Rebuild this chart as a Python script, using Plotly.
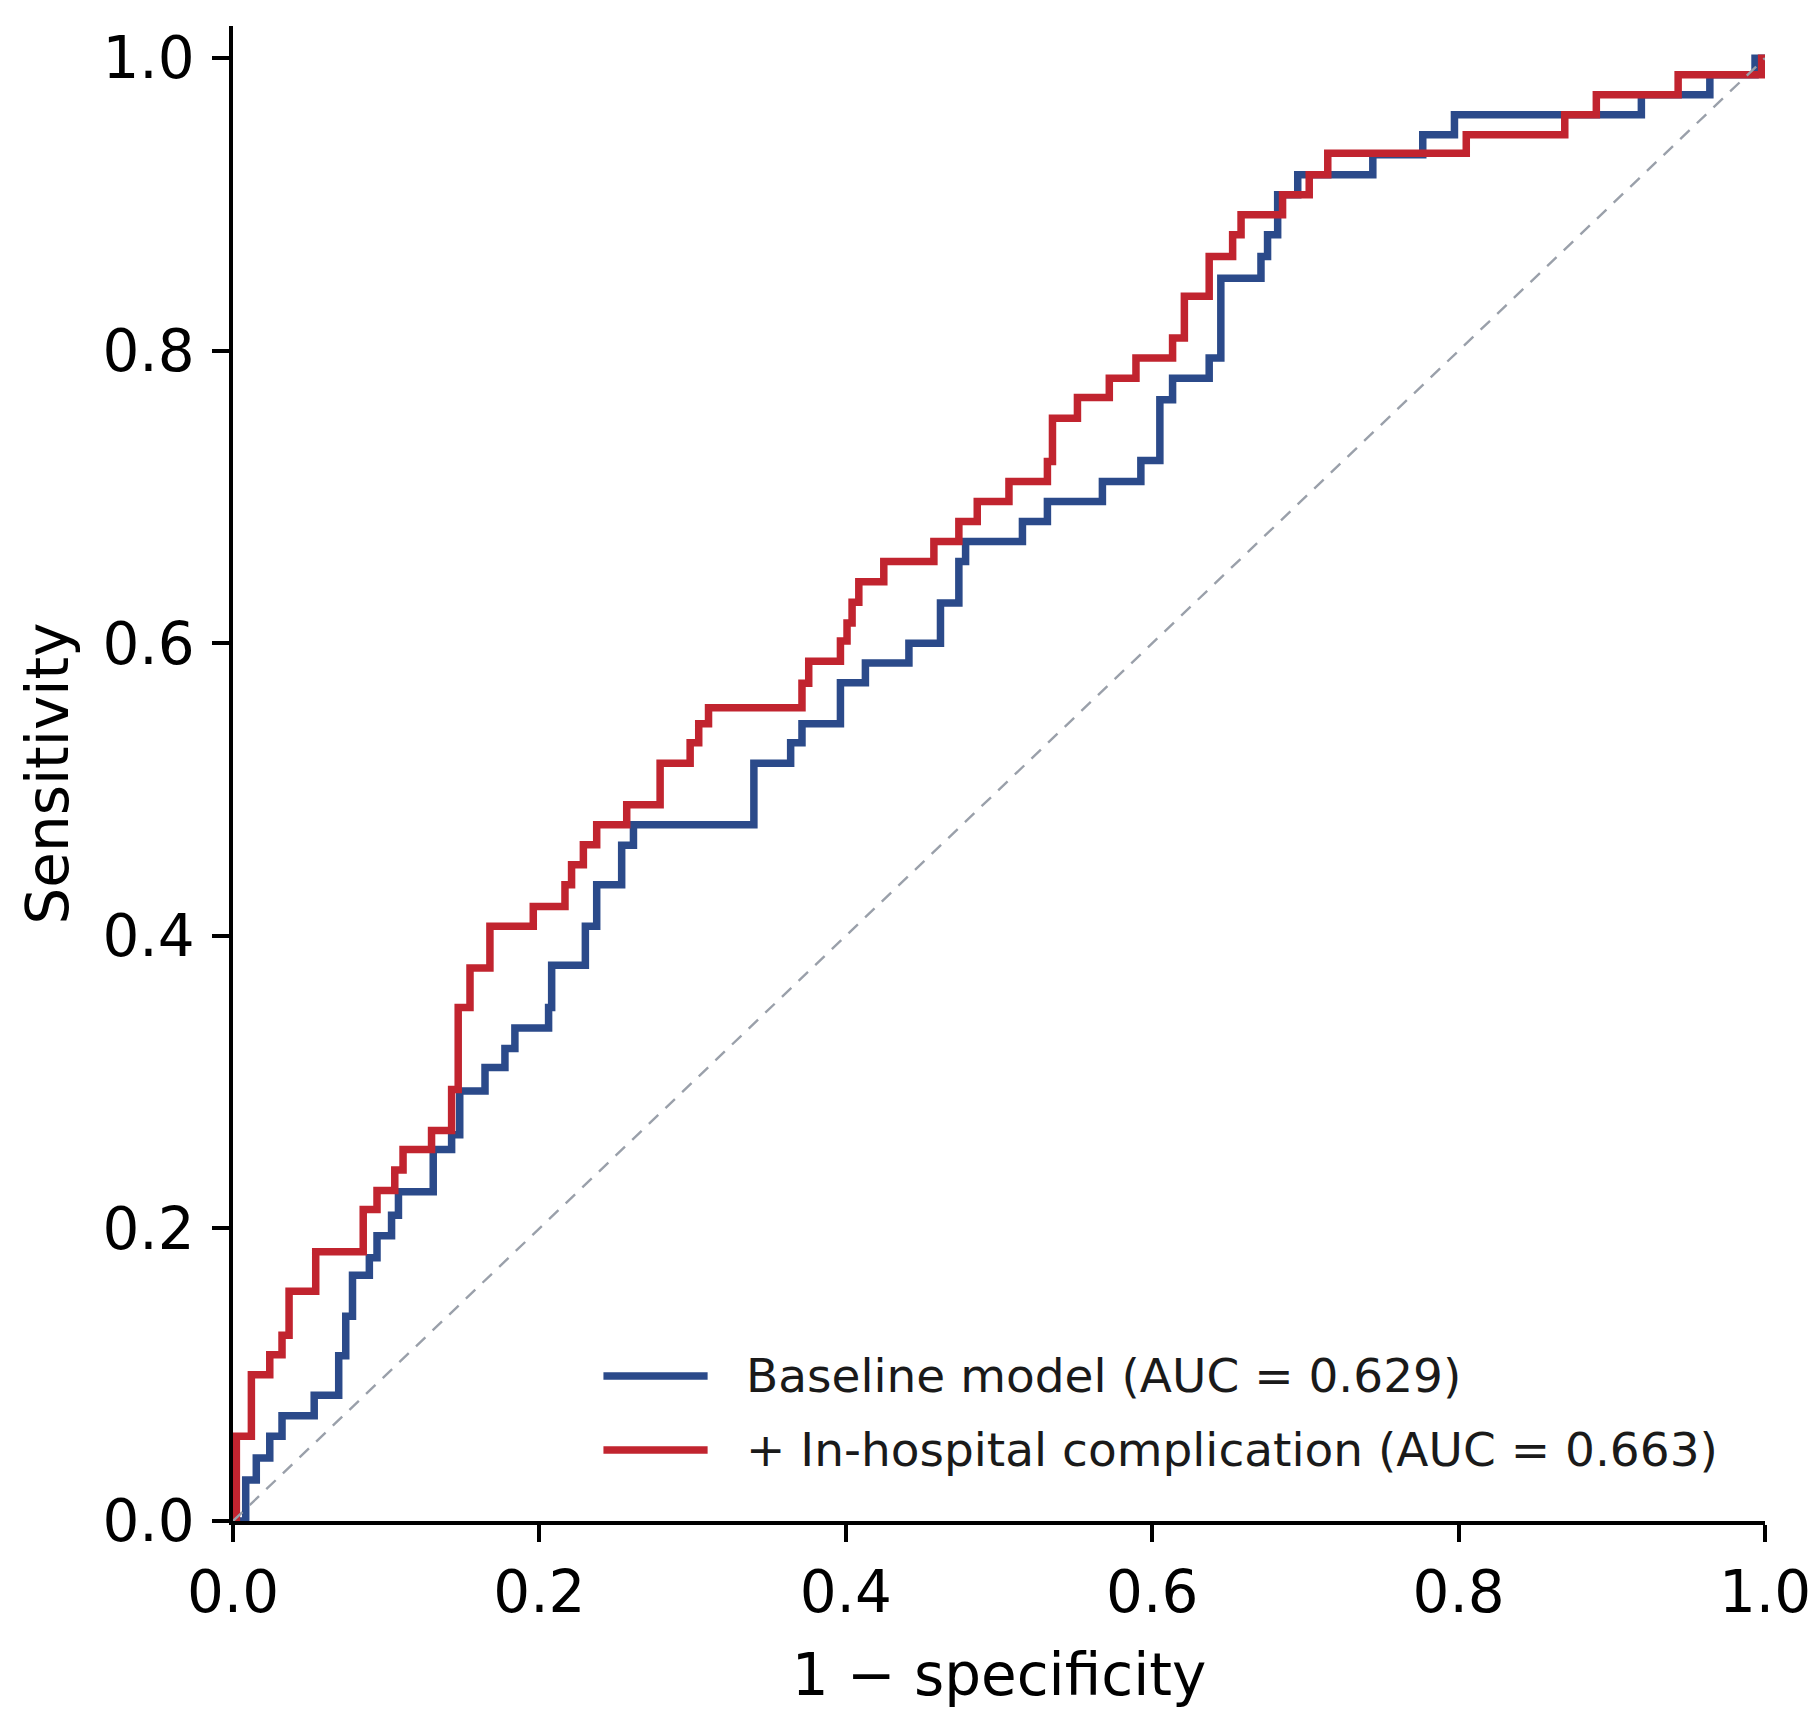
import plotly.graph_objects as go

# ---- data (ROC step vertices: false positive rate, true positive rate) ----
baseline_fpr = [0.0, 0.0083, 0.0152, 0.024, 0.032, 0.053, 0.069, 0.0736, 0.078, 0.089,
                0.094, 0.1035, 0.108, 0.1307, 0.1427, 0.148, 0.1645, 0.1775, 0.184, 0.206,
                0.208, 0.23, 0.2374, 0.2537, 0.2614, 0.34, 0.364, 0.3714, 0.3965, 0.4128,
                0.4412, 0.4618, 0.4738, 0.4782, 0.5153, 0.5316, 0.5675, 0.5926, 0.605, 0.6133,
                0.6372, 0.6448, 0.671, 0.6753, 0.6819, 0.695, 0.744, 0.7766, 0.7973, 0.9193,
                0.964, 0.9935, 1.0]
baseline_tpr = [0.0, 0.028, 0.043, 0.058, 0.072, 0.086, 0.113, 0.14, 0.168, 0.18,
                0.195, 0.209, 0.225, 0.254, 0.264, 0.294, 0.31, 0.323, 0.337, 0.351,
                0.38, 0.4065, 0.435, 0.462, 0.476, 0.518, 0.532, 0.545, 0.573, 0.5865,
                0.600, 0.6275, 0.656, 0.6696, 0.6833, 0.697, 0.7107, 0.725, 0.7665, 0.7812,
                0.795, 0.8496, 0.8645, 0.8793, 0.9066, 0.9203, 0.934, 0.9477, 0.9614, 0.975,
                0.9886, 1.0, 1.0]

complication_fpr = [0.0, 0.0022, 0.012, 0.024, 0.032, 0.0366, 0.054, 0.085, 0.094, 0.1056,
                    0.111, 0.1296, 0.1427, 0.147, 0.1547, 0.1677, 0.196, 0.2167, 0.221, 0.2287,
                    0.2374, 0.257, 0.2788, 0.2984, 0.304, 0.3104, 0.3714, 0.3758, 0.3965, 0.4008,
                    0.4041, 0.4085, 0.4248, 0.4575, 0.4738, 0.4858, 0.5065, 0.5316, 0.5349, 0.5512,
                    0.572, 0.5894, 0.6133, 0.621, 0.6372, 0.6525, 0.658, 0.6851, 0.7025, 0.7146,
                    0.805, 0.8693, 0.8899, 0.9433, 0.9978, 1.0]
complication_tpr = [0.0, 0.058, 0.1, 0.1137, 0.127, 0.157, 0.184, 0.213, 0.226, 0.240,
                    0.254, 0.267, 0.295, 0.351, 0.378, 0.4065, 0.42, 0.435, 0.4486, 0.4623,
                    0.476, 0.4896, 0.518, 0.532, 0.545, 0.556, 0.5727, 0.5877, 0.6016, 0.6138,
                    0.628, 0.642, 0.6559, 0.6696, 0.6833, 0.697, 0.7107, 0.7243, 0.7539, 0.768,
                    0.7812, 0.795, 0.8087, 0.8372, 0.8645, 0.8793, 0.893, 0.9066, 0.9203, 0.935,
                    0.9477, 0.9614, 0.975, 0.9886, 1.0, 1.0]

series_names = ["Baseline model (AUC = 0.629)", "+ In-hospital complication (AUC = 0.663)"]
series_colors = ["#2b4a8a", "#c1242f"]
chance_x = [0, 1]
chance_y = [0, 1]
tick_values = [0.0, 0.2, 0.4, 0.6, 0.8, 1.0]
tick_labels = ["0.0", "0.2", "0.4", "0.6", "0.8", "1.0"]

FONT = "DejaVu Sans"
W, H = 1817, 1719
ML, MR, MT, MB = 225, 60, 18, 206

fig = go.Figure()
for xs, ys, name, col in [(baseline_fpr, baseline_tpr, series_names[0], series_colors[0]),
                          (complication_fpr, complication_tpr, series_names[1], series_colors[1])]:
    fig.add_trace(go.Scatter(x=xs, y=ys, mode="lines", name=name, showlegend=False,
                             line=dict(color=col, width=7.5, shape="hv")))
fig.add_trace(go.Scatter(x=chance_x, y=chance_y, mode="lines", showlegend=False,
                         line=dict(color="#9aa0aa", width=2.4, dash="13px,10px")))

# legend drawn as line samples + labels
leg_y = [0.097, 0.0475]
for name, col, ly in zip(series_names, series_colors, leg_y):
    fig.add_shape(type="line", xref="paper", yref="paper", x0=0.2418, x1=0.3098, y0=ly, y1=ly,
                  line=dict(color=col, width=7.5))
    fig.add_annotation(xref="paper", yref="paper", x=0.3333, y=ly, text=name, showarrow=False,
                       xanchor="left", yanchor="middle", font=dict(family=FONT, size=47, color="#1a1a1a"))

axis_common = dict(showline=True, linecolor="black", linewidth=3.5, ticks="outside",
                   ticklen=17, tickwidth=3.5, tickcolor="black", showgrid=False, zeroline=False,
                   tickvals=tick_values, ticktext=tick_labels,
                   tickfont=dict(family=FONT, size=58, color="black"))
fig.update_xaxes(range=[0, 1], title=dict(text="1 \u2212 specificity", standoff=30,
                                           font=dict(family=FONT, size=58, color="black")),
                 ticklabelstandoff=1, **axis_common)
fig.update_yaxes(range=[0, 1.022], title=dict(text="Sensitivity", standoff=16,
                                               font=dict(family=FONT, size=58, color="black")),
                 ticklabelstandoff=6, **axis_common)
fig.update_layout(width=W, height=H, margin=dict(l=ML, r=MR, t=MT, b=MB),
                  plot_bgcolor="white", paper_bgcolor="white",
                  font=dict(family=FONT, color="black"))
fig.write_html("out.html")
